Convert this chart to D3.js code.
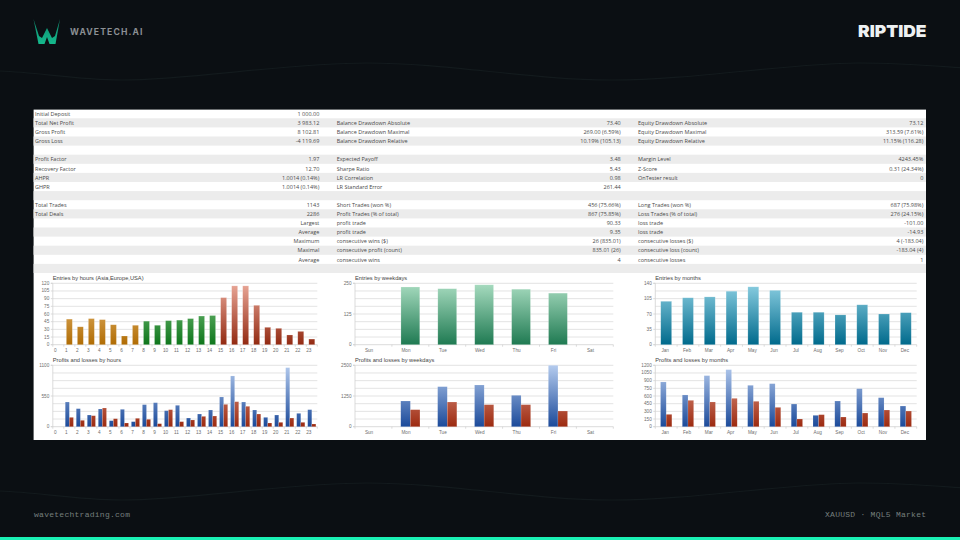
<!DOCTYPE html>
<html>
<head>
<meta charset="utf-8">
<script src="https://cdn.jsdelivr.net/npm/d3@7"></script>
<style>
  html, body { margin: 0; padding: 0; background: #0b0f13; }
  svg { display: block; }
  .axis path { stroke: #d2d2d2; stroke-width: 0.8; }
  .axis line { stroke: #d2d2d2; stroke-width: 0.8; }
  .axis text { fill: #6e6e6e; font-family: "Liberation Sans", Arial, sans-serif; font-size: 4.7px; }
</style>
</head>
<body>
<svg id="report" width="960" height="540"></svg>
<script>
// Summary table, one list per column
const leftLabels = ["Initial Deposit","Total Net Profit","Gross Profit","Gross Loss","","Profit Factor","Recovery Factor","AHPR","GHPR","","Total Trades","Total Deals","","","","",""];
const leftValues = ["1 000.00","3 983.12","8 102.81","-4 119.69","","1.97","12.70","1.0014 (0.14%)","1.0014 (0.14%)","","1143","2286","Largest","Average","Maximum","Maximal","Average"];
const midLabels = ["","Balance Drawdown Absolute","Balance Drawdown Maximal","Balance Drawdown Relative","","Expected Payoff","Sharpe Ratio","LR Correlation","LR Standard Error","","Short Trades (won %)","Profit Trades (% of total)","profit trade","profit trade","consecutive wins ($)","consecutive profit (count)","consecutive wins"];
const midValues = ["","73.40","269.00 (6.59%)","10.19% (105.13)","","3.48","5.43","0.98","261.44","","456 (75.66%)","867 (75.85%)","90.33","9.35","26 (835.01)","835.01 (26)","4"];
const rightLabels = ["","Equity Drawdown Absolute","Equity Drawdown Maximal","Equity Drawdown Relative","","Margin Level","Z-Score","OnTester result","","","Long Trades (won %)","Loss Trades (% of total)","loss trade","loss trade","consecutive losses ($)","consecutive loss (count)","consecutive losses"];
const rightValues = ["","73.12","313.59 (7.61%)","11.15% (116.28)","","4243.45%","0.31 (24.34%)","0","","","687 (75.98%)","276 (24.15%)","-101.00","-14.93","4 (-183.04)","-183.04 (4)","1"];

// Chart categories
const hours = d3.range(24).map(String);
const weekdays = ["Sun","Mon","Tue","Wed","Thu","Fri","Sat"];
const months = ["Jan","Feb","Mar","Apr","May","Jun","Jul","Aug","Sep","Oct","Nov","Dec"];

// Chart series
const entriesByHour = [0,50,35,51,49,39,17,38,46,38,47,48,51,56,57,92,115,115,77,34,32,19,26,11];
const profitByHour = [0,442,323,209,317,108,311,90,395,430,287,383,155,227,299,532,909,442,299,167,209,1058,239,305];
const lossByHour = [0,167,114,197,335,143,66,150,132,54,305,90,120,185,191,400,448,365,227,66,78,155,78,48];
const entriesByWeekday = [0,235,228,244,226,210,0];
const profitByWeekday = [0,1046,1630,1698,1277,2500,0];
const lossByWeekday = [0,693,1005,897,897,638,0];
const entriesByMonth = [99,107,109,122,132,124,74,74,68,91,70,73];
const profitByMonth = [874,620,998,1115,809,841,443,222,502,743,567,404];
const lossByMonth = [241,515,483,554,496,378,150,235,189,267,326,306];

// Axis tick labels
const entriesHourTicks = [0,15,30,45,60,75,90,105,120];
const profitHourTicks = [0,550,1100];
const entriesWeekdayTicks = [0,125,250];
const profitWeekdayTicks = [0,1250,2500];
const entriesMonthTicks = [0,35,70,105,140];
const profitMonthTicks = [0,150,300,450,600,750,900,1050,1200];

const svg = d3.select("#report");
const defs = svg.append("defs");
const W = 960, H = 540;

// Page background and faint wave lines
svg.append("rect").attr("width", W).attr("height", H).attr("fill", "#0b0f13");
const waveAnchors = [[-122,71],[0,71],[122,80],[367,63],[612,80],[857,63],[1000,71]];
const waveLine = d3.line().curve(d3.curveCatmullRom.alpha(0.5));
[0, 420].forEach(dy => svg.append("path")
  .attr("d", waveLine(waveAnchors.map(([x, y]) => [x, y + dy])))
  .attr("fill", "none").attr("stroke", "#131a1d").attr("stroke-width", 1.2));

// Header
const logoGrad = defs.append("linearGradient").attr("id", "logoGrad").attr("x1", 0).attr("x2", 0).attr("y1", 0).attr("y2", 1);
logoGrad.append("stop").attr("offset", 0).attr("stop-color", "#0d8a6e");
logoGrad.append("stop").attr("offset", 1).attr("stop-color", "#15b98c");
svg.append("polygon")
  .attr("points", "33.5,19 38.5,44 44.5,44 47,37 49.5,44 55.5,44 60,19 55,36 52,38 47,28 42,38 39,36")
  .attr("fill", "url(#logoGrad)");
svg.append("text").attr("x", 70).attr("y", 35.2)
  .attr("font-family", "Inter, sans-serif").attr("font-weight", 700).attr("font-size", 8.6)
  .attr("textLength", 72.5).attr("fill", "#8b9094").text("WAVETECH.AI");
svg.append("text").attr("x", 858).attr("y", 37.3)
  .attr("font-family", "Inter, sans-serif").attr("font-weight", 900).attr("font-size", 16.6)
  .attr("textLength", 68.5).attr("lengthAdjust", "spacingAndGlyphs").attr("fill", "#eef1f2").text("RIPTIDE");

// Footer
svg.append("text").attr("x", 34).attr("y", 517)
  .attr("font-family", "'Liberation Mono', monospace").attr("font-size", 8)
  .attr("textLength", 96).attr("fill", "#767f7d").text("wavetechtrading.com");
svg.append("text").attr("x", 825).attr("y", 517)
  .attr("font-family", "'Liberation Mono', monospace").attr("font-size", 8)
  .attr("textLength", 101).attr("fill", "#767f7d").text("XAUUSD · MQL5 Market");
svg.append("rect").attr("x", 0).attr("y", 537).attr("width", W).attr("height", 3).attr("fill", "#1af0b4");

// Report panel with striped rows
svg.append("rect").attr("x", 33.6).attr("y", 109.6).attr("width", 892.4).attr("height", 330.4).attr("fill", "#fff");
const rowTop = 109.2, rowH = 9.1;
svg.append("g").selectAll("rect")
  .data(d3.range(1, 18, 2))
  .join("rect")
  .attr("x", 33.6).attr("width", 892.4)
  .attr("y", i => rowTop + i * rowH).attr("height", rowH)
  .attr("fill", "#ececec");

function tableColumn(values, x, anchor) {
  svg.append("g").selectAll("text")
    .data(values)
    .join("text")
    .attr("x", x)
    .attr("y", (d, i) => rowTop + rowH * i + 6.7)
    .attr("text-anchor", anchor)
    .attr("font-family", "'Open Sans', sans-serif")
    .attr("font-size", 5.5)
    .attr("fill", "#4a4a4a")
    .text(d => d);
}
tableColumn(leftLabels, 35, "start");
tableColumn(leftValues, 319.3, "end");
tableColumn(midLabels, 336.7, "start");
tableColumn(midValues, 620.7, "end");
tableColumn(rightLabels, 638, "start");
tableColumn(rightValues, 923.3, "end");

// Vertical gradient spanning the plot, so tall bars reach the lighter colours
let gradCount = 0;
function plotGradient(top, bottom, light, dark) {
  const id = "barGrad" + (gradCount++);
  const g = defs.append("linearGradient").attr("id", id)
    .attr("gradientUnits", "userSpaceOnUse")
    .attr("x1", 0).attr("x2", 0).attr("y1", top).attr("y2", bottom);
  g.append("stop").attr("offset", 0).attr("stop-color", light);
  g.append("stop").attr("offset", 1).attr("stop-color", dark);
  return `url(#${id})`;
}

function drawFrame(o) {
  const g = svg.append("g");
  const x = d3.scaleBand().domain(o.categories).range([o.left, o.right]);
  const y = d3.scaleLinear().domain([0, o.max]).range([o.bottom, o.top]);
  // Eight grid intervals, whether or not each one is labelled
  g.append("g").selectAll("line")
    .data(d3.range(1, 9).map(i => o.max * i / 8))
    .join("line")
    .attr("x1", o.left).attr("x2", o.right)
    .attr("y1", d => y(d)).attr("y2", d => y(d))
    .attr("stroke", "#e0e0e0").attr("stroke-width", 0.9);
  const ax = g.append("g").attr("class", "axis")
    .attr("transform", `translate(0,${o.bottom})`)
    .call(d3.axisBottom(x).tickSize(0).tickPadding(3.8).offset(0));
  ax.selectAll(".tick text").attr("dx", o.labelShift);
  // Tick marks sit on the band edges
  ax.selectAll("line.edge")
    .data(d3.range(o.categories.length + 1))
    .join("line").attr("class", "edge")
    .attr("x1", i => o.left + i * x.step()).attr("x2", i => o.left + i * x.step())
    .attr("y1", 0).attr("y2", 2);
  const ay = g.append("g").attr("class", "axis")
    .attr("transform", `translate(${o.left},0)`)
    .call(d3.axisLeft(y).tickValues(o.ticks).tickFormat(d3.format("d")).tickSize(2).tickPadding(1.5).offset(0));
  g.append("text").attr("x", o.left).attr("y", o.top - 3)
    .attr("font-family", "'Liberation Sans', Arial, sans-serif")
    .attr("font-size", 5.7).attr("fill", "#444").text(o.title);
  return { g, x, y };
}

// Entry count charts: one bar per category
function entriesChart(o) {
  const { g, x, y } = drawFrame(o);
  const bw = x.step() * o.fill;
  g.append("g").selectAll("rect")
    .data(o.values.map((v, i) => ({ v, c: o.categories[i] })))
    .join("rect")
    .attr("x", d => x(d.c) + (x.step() - bw) / 2)
    .attr("width", bw)
    .attr("y", d => y(d.v))
    .attr("height", d => y(0) - y(d.v))
    .attr("fill", d => o.color(d.c))
    .attr("stroke", "rgba(255,255,255,0.3)").attr("stroke-width", 0.6);
}

// Profit and loss charts: a blue and a red bar side by side
function pairChart(o) {
  const { g, x, y } = drawFrame(o);
  const bw = x.step() * o.fill / 2;
  const blue = plotGradient(o.top, o.bottom, "#b4cbee", "#1b4a9a");
  const red = plotGradient(o.top, o.bottom, "#eaa898", "#9c2a10");
  [[o.profit, blue, -1], [o.loss, red, 0]].forEach(([vals, fill, side]) => {
    g.append("g").selectAll("rect")
      .data(vals.map((v, i) => ({ v, c: o.categories[i] })))
      .join("rect")
      .attr("x", d => x(d.c) + x.step() / 2 + side * bw)
      .attr("width", bw)
      .attr("y", d => y(d.v))
      .attr("height", d => y(0) - y(d.v))
      .attr("fill", fill)
      .attr("stroke", "rgba(255,255,255,0.25)").attr("stroke-width", 0.5);
  });
}

const rowA = { top: 283.3, bottom: 344.7 };
const rowB = { top: 365.3, bottom: 426.7 };
const colA = { left: 52.8, right: 317.3 };
const colB = { left: 355, right: 613.3 };
const colC = { left: 655.3, right: 916.7 };

const asia = plotGradient(rowA.top, rowA.bottom, "#f2c888", "#b06c04");
const europe = plotGradient(rowA.top, rowA.bottom, "#8ccc8c", "#0e761c");
const usa = plotGradient(rowA.top, rowA.bottom, "#eaa898", "#922a12");
const session = d3.scaleThreshold().domain([8, 15]).range([asia, europe, usa]);

entriesChart({ ...rowA, ...colA, categories: hours, values: entriesByHour, max: 120,
  ticks: entriesHourTicks, title: "Entries by hours (Asia,Europe,USA)", fill: 0.54, labelShift: -3,
  color: c => session(+c) });
pairChart({ ...rowB, ...colA, categories: hours, profit: profitByHour, loss: lossByHour, max: 1100,
  ticks: profitHourTicks, title: "Profits and losses by hours", fill: 0.74, labelShift: -3 });

const weekdayGreen = plotGradient(rowA.top, rowA.bottom, "#a8dcc0", "#1f7a52");
entriesChart({ ...rowA, ...colB, categories: weekdays, values: entriesByWeekday, max: 250,
  ticks: entriesWeekdayTicks, title: "Entries by weekdays", fill: 0.51, labelShift: -4.4,
  color: () => weekdayGreen });
pairChart({ ...rowB, ...colB, categories: weekdays, profit: profitByWeekday, loss: lossByWeekday, max: 2500,
  ticks: profitWeekdayTicks, title: "Profits and losses by weekdays", fill: 0.52, labelShift: -4.4 });

const monthTeal = plotGradient(rowA.top, rowA.bottom, "#8ccfe2", "#006a8c");
entriesChart({ ...rowA, ...colC, categories: months, values: entriesByMonth, max: 140,
  ticks: entriesMonthTicks, title: "Entries by months", fill: 0.5, labelShift: -1,
  color: () => monthTeal });
pairChart({ ...rowB, ...colC, categories: months, profit: profitByMonth, loss: lossByMonth, max: 1200,
  ticks: profitMonthTicks, title: "Profits and losses by months", fill: 0.52, labelShift: -1 });
</script>
</body>
</html>
